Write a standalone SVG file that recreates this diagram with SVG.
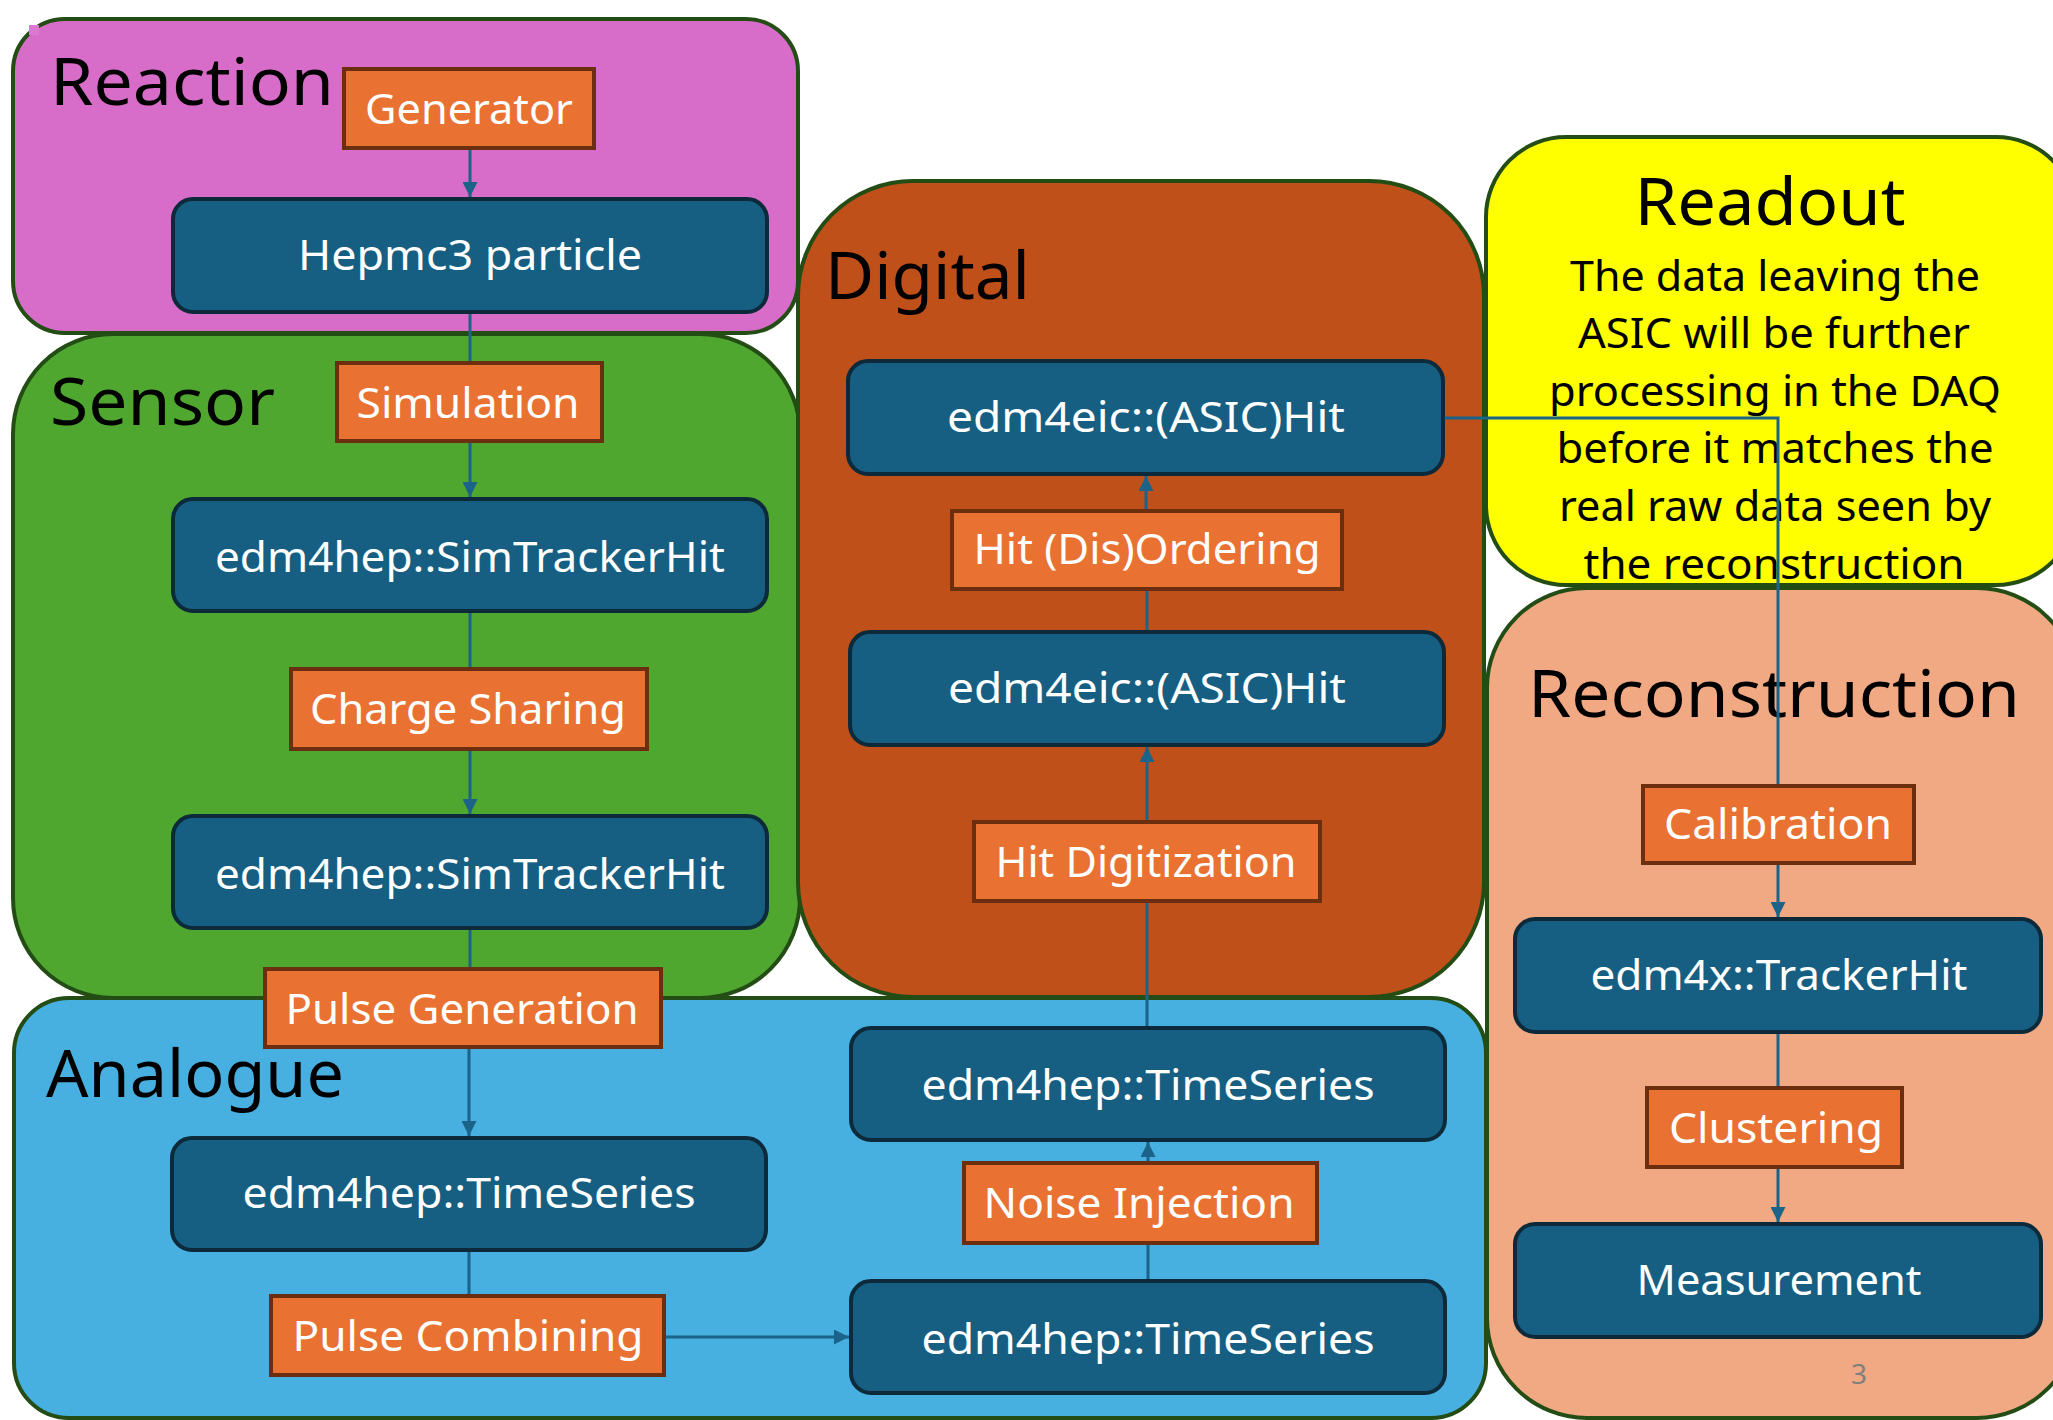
<svg xmlns="http://www.w3.org/2000/svg" width="2053" height="1420" viewBox="0 0 2053 1420">
<defs>
<style>
.region{stroke:#234d14;stroke-width:4}
.node rect{fill:#165f82;stroke:#0c2a3a;stroke-width:4}
.node text{fill:#ffffff;font-family:"Noto Sans","Open Sans",sans-serif;font-size:42px;text-anchor:middle}
.proc rect{fill:#e97132;stroke:#6b2e0e;stroke-width:4}
.proc text{fill:#ffffff;font-family:"Noto Sans","Open Sans",sans-serif;font-size:42px;text-anchor:middle}
.title{fill:#000000;font-family:"Noto Sans","Open Sans",sans-serif;font-size:66px}
.body{fill:#000000;font-family:"Noto Sans","Open Sans",sans-serif;font-size:42px;text-anchor:middle}
.conn{stroke:#1b6389;stroke-width:3;fill:none}
</style>
<marker id="arr" viewBox="0 0 10 10" refX="10" refY="5" markerWidth="5" markerHeight="5" orient="auto" markerUnits="strokeWidth">
<path d="M0,0 L10,5 L0,10 z" fill="#1b6389"/>
</marker>
</defs>
<rect width="2053" height="1420" fill="#ffffff"/>

<g id="region-reaction">
<rect class="region" x="13" y="19" width="785" height="314" rx="52" fill="#d76dc8"/>
<rect x="29" y="25" width="10" height="10" fill="#dc78d2"/>
<text class="title" x="50" y="105" textLength="284" lengthAdjust="spacingAndGlyphs">Reaction</text>
</g>
<g id="region-sensor">
<rect class="region" x="13" y="334" width="787" height="664" rx="100" fill="#4fa72f"/>
<text class="title" x="50" y="425" textLength="225" lengthAdjust="spacingAndGlyphs">Sensor</text>
</g>
<g id="region-digital">
<rect class="region" x="798" y="181" width="686" height="816" rx="115" fill="#c0501a"/>
<text class="title" x="825" y="299" textLength="205" lengthAdjust="spacingAndGlyphs">Digital</text>
</g>
<g id="region-analogue">
<rect class="region" x="14" y="998" width="1472" height="420" rx="55" fill="#47b0e0"/>
<text class="title" x="46" y="1097" textLength="298" lengthAdjust="spacingAndGlyphs">Analogue</text>
</g>
<g id="region-readout">
<rect class="region" x="1486" y="137" width="590" height="448" rx="80" fill="#ffff00"/>
<text class="title" x="1770" y="225" text-anchor="middle" textLength="271" lengthAdjust="spacingAndGlyphs">Readout</text>
<text class="body" x="1775" y="291" textLength="410" lengthAdjust="spacingAndGlyphs">The data leaving the</text>
<text class="body" x="1774" y="348" textLength="392" lengthAdjust="spacingAndGlyphs">ASIC will be further</text>
<text class="body" x="1775" y="406" textLength="452" lengthAdjust="spacingAndGlyphs">processing in the DAQ</text>
<text class="body" x="1775" y="463" textLength="437" lengthAdjust="spacingAndGlyphs">before it matches the</text>
<text class="body" x="1775" y="521" textLength="432" lengthAdjust="spacingAndGlyphs">real raw data seen by</text>
<text class="body" x="1774" y="579" textLength="381" lengthAdjust="spacingAndGlyphs">the reconstruction</text>
</g>
<g id="region-reconstruction">
<rect class="region" x="1487" y="588" width="590" height="830" rx="100" fill="#f1a984"/>
<text class="title" x="1774" y="717" text-anchor="middle" textLength="492" lengthAdjust="spacingAndGlyphs">Reconstruction</text>
<text x="1859" y="1384" fill="#7f7f7f" font-family="Noto Sans, Open Sans, sans-serif" font-size="28" text-anchor="middle">3</text>
</g>

<g id="connectors">
<line class="conn" x1="470" y1="148" x2="470" y2="197" marker-end="url(#arr)"/>
<line class="conn" x1="470" y1="312" x2="470" y2="363"/>
<line class="conn" x1="470" y1="441" x2="470" y2="497" marker-end="url(#arr)"/>
<line class="conn" x1="470" y1="611" x2="470" y2="669"/>
<line class="conn" x1="470" y1="749" x2="470" y2="814" marker-end="url(#arr)"/>
<line class="conn" x1="470" y1="928" x2="470" y2="969"/>
<line class="conn" x1="469" y1="1047" x2="469" y2="1136" marker-end="url(#arr)"/>
<line class="conn" x1="469" y1="1250" x2="469" y2="1296"/>
<line class="conn" x1="665" y1="1337" x2="849" y2="1337" marker-end="url(#arr)"/>
<line class="conn" x1="1148" y1="1281" x2="1148" y2="1243"/>
<line class="conn" x1="1148" y1="1163" x2="1148" y2="1142" marker-end="url(#arr)"/>
<line class="conn" x1="1147" y1="1028" x2="1147" y2="901"/>
<line class="conn" x1="1147" y1="822" x2="1147" y2="747" marker-end="url(#arr)"/>
<line class="conn" x1="1147" y1="632" x2="1147" y2="589"/>
<line class="conn" x1="1146" y1="511" x2="1146" y2="476" marker-end="url(#arr)"/>
<polyline class="conn" points="1443,418 1778,418 1778,786"/>
<line class="conn" x1="1778" y1="863" x2="1778" y2="917" marker-end="url(#arr)"/>
<line class="conn" x1="1778" y1="1032" x2="1778" y2="1088"/>
<line class="conn" x1="1778" y1="1167" x2="1778" y2="1222" marker-end="url(#arr)"/>
</g>

<g id="n-generator" class="proc"><rect x="344" y="69" width="250" height="79"/><text x="469" y="124" textLength="208" lengthAdjust="spacingAndGlyphs">Generator</text></g>
<g id="n-hepmc" class="node"><rect x="173" y="199" width="594" height="113" rx="20"/><text x="470" y="270" textLength="344" lengthAdjust="spacingAndGlyphs">Hepmc3 particle</text></g>
<g id="n-simulation" class="proc"><rect x="337" y="363" width="265" height="78"/><text x="468" y="418" textLength="223" lengthAdjust="spacingAndGlyphs">Simulation</text></g>
<g id="n-simhit1" class="node"><rect x="173" y="499" width="594" height="112" rx="20"/><text x="470" y="572" textLength="510" lengthAdjust="spacingAndGlyphs">edm4hep::SimTrackerHit</text></g>
<g id="n-charge" class="proc"><rect x="291" y="669" width="356" height="80"/><text x="468" y="724" textLength="316" lengthAdjust="spacingAndGlyphs">Charge Sharing</text></g>
<g id="n-simhit2" class="node"><rect x="173" y="816" width="594" height="112" rx="20"/><text x="470" y="889" textLength="510" lengthAdjust="spacingAndGlyphs">edm4hep::SimTrackerHit</text></g>
<g id="n-pulsegen" class="proc"><rect x="265" y="969" width="396" height="78"/><text x="462" y="1024" textLength="353" lengthAdjust="spacingAndGlyphs">Pulse Generation</text></g>
<g id="n-ts-left" class="node"><rect x="172" y="1138" width="594" height="112" rx="20"/><text x="469" y="1208" textLength="453" lengthAdjust="spacingAndGlyphs">edm4hep::TimeSeries</text></g>
<g id="n-pulsecomb" class="proc"><rect x="271" y="1296" width="393" height="79"/><text x="468" y="1351" textLength="351" lengthAdjust="spacingAndGlyphs">Pulse Combining</text></g>
<g id="n-ts-br" class="node"><rect x="851" y="1281" width="594" height="112" rx="20"/><text x="1148" y="1354" textLength="453" lengthAdjust="spacingAndGlyphs">edm4hep::TimeSeries</text></g>
<g id="n-noise" class="proc"><rect x="964" y="1163" width="353" height="80"/><text x="1139" y="1218" textLength="311" lengthAdjust="spacingAndGlyphs">Noise Injection</text></g>
<g id="n-ts-tr" class="node"><rect x="851" y="1028" width="594" height="112" rx="20"/><text x="1148" y="1100" textLength="453" lengthAdjust="spacingAndGlyphs">edm4hep::TimeSeries</text></g>
<g id="n-digitization" class="proc"><rect x="974" y="822" width="346" height="79"/><text x="1146" y="877" textLength="301" lengthAdjust="spacingAndGlyphs">Hit Digitization</text></g>
<g id="n-asic2" class="node"><rect x="850" y="632" width="594" height="113" rx="20"/><text x="1147" y="703" textLength="398" lengthAdjust="spacingAndGlyphs">edm4eic::(ASIC)Hit</text></g>
<g id="n-ordering" class="proc"><rect x="952" y="511" width="390" height="78"/><text x="1147" y="564" textLength="347" lengthAdjust="spacingAndGlyphs">Hit (Dis)Ordering</text></g>
<g id="n-asic1" class="node"><rect x="848" y="361" width="595" height="113" rx="20"/><text x="1146" y="432" textLength="398" lengthAdjust="spacingAndGlyphs">edm4eic::(ASIC)Hit</text></g>
<g id="n-calibration" class="proc"><rect x="1643" y="786" width="271" height="77"/><text x="1778" y="839" textLength="228" lengthAdjust="spacingAndGlyphs">Calibration</text></g>
<g id="n-trackerhit" class="node"><rect x="1515" y="919" width="526" height="113" rx="20"/><text x="1779" y="990" textLength="377" lengthAdjust="spacingAndGlyphs">edm4x::TrackerHit</text></g>
<g id="n-clustering" class="proc"><rect x="1647" y="1088" width="255" height="79"/><text x="1776" y="1143" textLength="214" lengthAdjust="spacingAndGlyphs">Clustering</text></g>
<g id="n-measurement" class="node"><rect x="1515" y="1224" width="526" height="113" rx="20"/><text x="1779" y="1295" textLength="285" lengthAdjust="spacingAndGlyphs">Measurement</text></g>
</svg>
